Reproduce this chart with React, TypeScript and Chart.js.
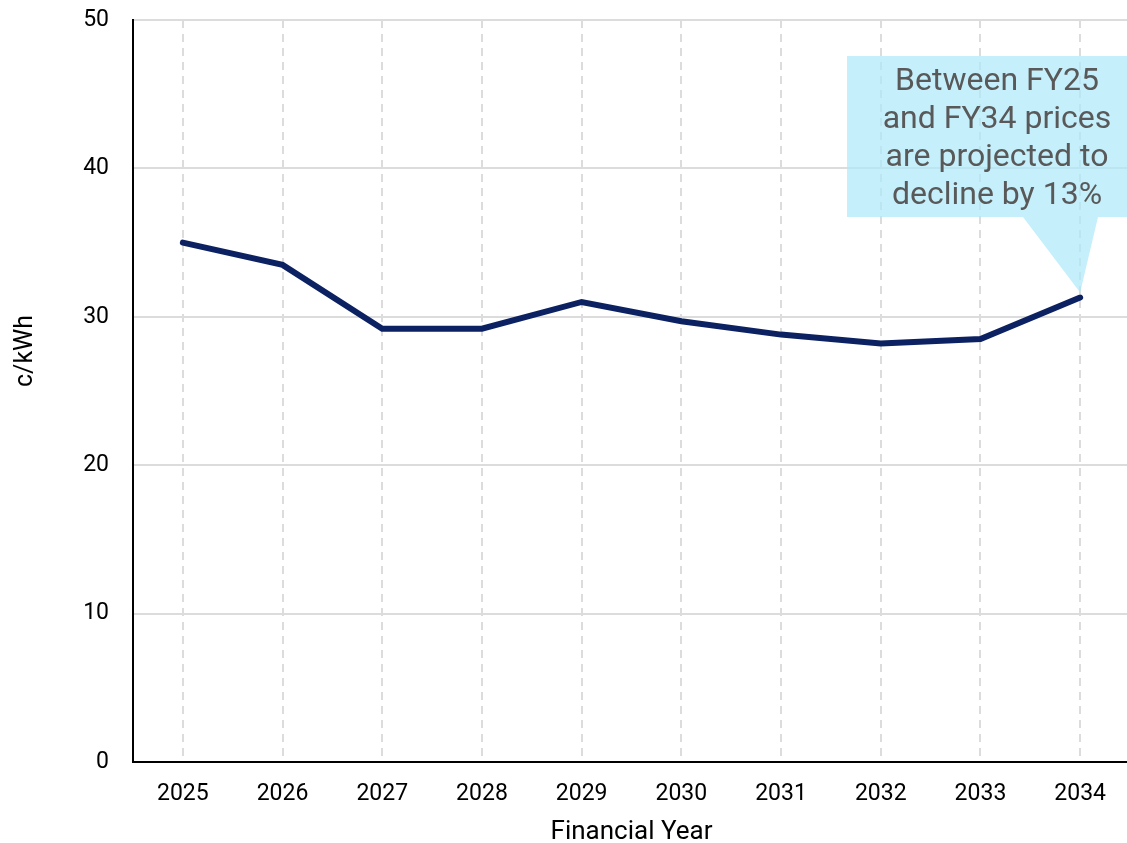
import { useEffect, useRef } from "react";
import { Chart, registerables } from "chart.js";

Chart.register(...registerables);

// Financial years on the x axis
const years = ["2025", "2026", "2027", "2028", "2029", "2030", "2031", "2032", "2033", "2034"];
// Projected price, c/kWh
const priceCents = [35.0, 33.5, 29.2, 29.2, 31.0, 29.7, 28.8, 28.2, 28.5, 31.3];
// Y axis range and step
const yMin = 0;
const yMax = 50;
const yStep = 10;
// Axis titles
const xTitle = "Financial Year";
const yTitle = "c/kWh";
// Callout text
const calloutLines = ["Between FY25", "and FY34 prices", "are projected to", "decline by 13%"];

const FONT = "Roboto";

// Draws the rotated y axis title
const yTitlePlugin = {
  id: "yTitle",
  afterDraw(chart: any) {
    const { ctx } = chart;
    ctx.save();
    ctx.translate(26, 351);
    ctx.rotate(-Math.PI / 2);
    ctx.font = `25px ${FONT}`;
    ctx.fillStyle = "#000";
    ctx.textAlign = "center";
    ctx.textBaseline = "middle";
    ctx.fillText(yTitle, 0, 0);
    ctx.restore();
  },
};

// Draws the speech-bubble callout pointing at the last data point
const calloutPlugin = {
  id: "callout",
  beforeDatasetsDraw(chart: any) {
    const { ctx, scales } = chart;
    const last = priceCents.length - 1;
    const tipX = scales.x.getPixelForValue(last);
    const tipY = scales.y.getPixelForValue(priceCents[last]) - 5;
    const boxLeft = 847;
    const boxTop = 56;
    const boxBottom = 217;
    const boxRight = chart.width;
    ctx.save();
    ctx.fillStyle = "rgba(173, 232, 250, 0.7)";
    ctx.beginPath();
    ctx.moveTo(boxLeft, boxTop);
    ctx.lineTo(boxRight, boxTop);
    ctx.lineTo(boxRight, boxBottom);
    ctx.lineTo(1098, boxBottom);
    ctx.lineTo(tipX, tipY);
    ctx.lineTo(1023, boxBottom);
    ctx.lineTo(boxLeft, boxBottom);
    ctx.closePath();
    ctx.fill();
    ctx.fillStyle = "#595959";
    ctx.font = `32px ${FONT}`;
    ctx.textAlign = "center";
    ctx.textBaseline = "alphabetic";
    calloutLines.forEach((line, i) => {
      ctx.fillText(line, 997, 90 + i * 38);
    });
    ctx.restore();
  },
};

export default function App() {
  const canvasRef = useRef<HTMLCanvasElement | null>(null);

  useEffect(() => {
    const canvas = canvasRef.current;
    if (!canvas) return;
    const chart = new Chart(canvas, {
      type: "line",
      data: {
        labels: years,
        datasets: [
          {
            data: priceCents,
            borderColor: "#0b2161",
            borderWidth: 6,
            borderCapStyle: "round",
            pointRadius: 0,
            pointHoverRadius: 0,
            tension: 0,
            fill: false,
          },
        ],
      },
      options: {
        responsive: false,
        maintainAspectRatio: false,
        devicePixelRatio: 1,
        animation: false,
        layout: { padding: { top: 20, right: 1, left: 0, bottom: 0 } },
        plugins: {
          legend: { display: false },
          tooltip: { enabled: false },
        },
        scales: {
          x: {
            type: "category",
            offset: true,
            grid: {
              display: true,
              color: "#dcdcdc",
              lineWidth: 2,
              drawTicks: false,
              offset: false,
            },
            border: { display: true, color: "#000", width: 2, dash: [8, 6] },
            ticks: {
              color: "#000",
              font: { family: FONT, size: 23 },
              padding: 18,
              maxRotation: 0,
              autoSkip: false,
            },
            title: {
              display: true,
              text: xTitle,
              color: "#000",
              font: { family: FONT, size: 26 },
              padding: { top: 0, bottom: -5 },
            },
            afterFit: (s: any) => {
              s.height = 81;
              s.paddingLeft = 0;
              s.paddingRight = 0;
            },
          },
          y: {
            min: yMin,
            max: yMax,
            grid: { color: "#dcdcdc", lineWidth: 2, drawTicks: false },
            border: { display: true, color: "#000", width: 2 },
            ticks: {
              stepSize: yStep,
              color: "#000",
              font: { family: FONT, size: 23 },
              padding: 24,
            },
            afterFit: (s: any) => {
              s.width = 133;
              s.paddingTop = 0;
              s.paddingBottom = 0;
            },
          },
        },
      },
      plugins: [calloutPlugin, yTitlePlugin],
    });
    return () => chart.destroy();
  }, []);

  return (
    <div
      style={{
        position: "fixed",
        left: 0,
        top: 0,
        width: 1127,
        height: 843,
        overflow: "hidden",
        background: "#fff",
      }}
    >
      <canvas ref={canvasRef} width={1131} height={843} style={{ display: "block" }} />
    </div>
  );
}
